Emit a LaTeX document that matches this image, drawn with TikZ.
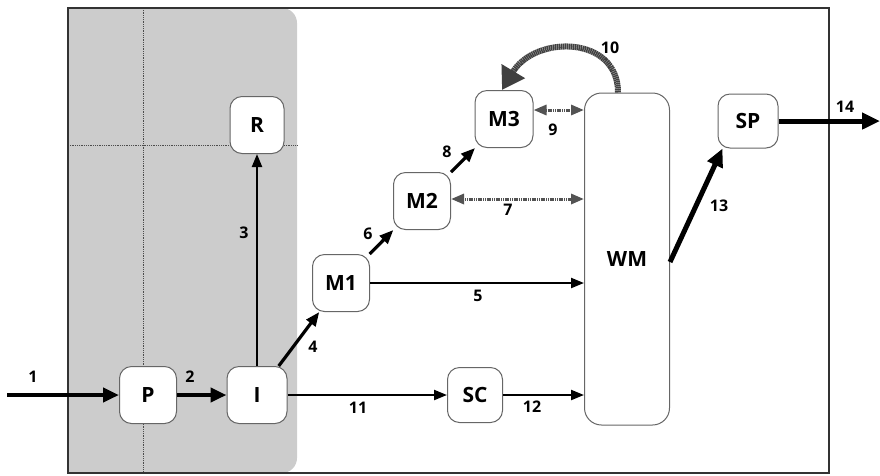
\documentclass[tikz,border=0pt]{standalone}
\usepackage{fontspec}
\setmainfont{Open Sans}
\usetikzlibrary{arrows.meta,calc}
\begin{document}
\begin{tikzpicture}[x=1pt,y=-1pt,
  box/.style={draw=black!60, line width=1pt, rounded corners=12pt, fill=white,
    minimum width=57pt, minimum height=57pt, inner sep=0pt,
    font=\fontsize{21}{21}\selectfont\bfseries},
  lbl/.style={font=\fontsize{16}{16}\selectfont\bfseries, inner sep=0pt},
  heavy/.style={-{Triangle[length=16pt,width=14pt]}, line width=4pt},
  medium/.style={-{Triangle[length=14pt,width=11pt]}, line width=3.2pt},
  light/.style={-{Triangle[length=13pt,width=10pt]}, line width=2.2pt},
  bold/.style={-{Triangle[length=18pt,width=16pt]}, line width=5pt},
  hatch/.style={{Triangle[length=13pt,width=10pt]}-{Triangle[length=13pt,width=10pt]},
    line width=3pt, draw=gray!65!black, dash pattern=on 1.2pt off 0.6pt},
  feedback/.style={-{Triangle[length=22pt,width=26pt]}, line width=6pt, draw=gray!50!black,
    dash pattern=on 1.5pt off 0.5pt},
  frame/.style={draw=black!80, line width=1.3pt},
  grid/.style={draw=gray!60!black, densely dotted, line width=0.8pt}
]
\useasboundingbox (0,0) rectangle (880,475);
% shaded region
\begin{scope}
  \clip (68,0) rectangle (400,480);
  \fill[gray!40, rounded corners=15pt] (30,8) rectangle (297,473);
\end{scope}
\draw[grid] (143,8) -- (143,473);
\draw[grid] (68,145) -- (297,145);
% frame
\draw[frame] (68,8) rectangle (829,473);

% nodes
\node[box] (P) at (148,395) {P};
\node[box, minimum width=60pt] (I) at (257,395) {I};
\node[box, minimum width=54pt] (R) at (257,125) {R};
\node[box] (M1) at (341,283) {M1};
\node[box] (M2) at (422,201) {M2};
\node[box, minimum width=58pt] (M3) at (504,119) {M3};
\node[box, minimum width=55pt, minimum height=55pt] (SC) at (475,395) {SC};
\node[box, minimum width=60pt, minimum height=54pt] (SP) at (748,121) {SP};
\node[box, minimum width=85pt, minimum height=332pt, rounded corners=17pt] (WM) at (627,259) {WM};

\coordinate (in1) at (7,395);
\coordinate (out14) at (880,121);

% connectors
\draw[heavy] (in1) -- (P.west);
\draw[heavy] (P.east) -- (I.west);
\draw[light] (I.north) -- (R.south);
\draw[medium] (I) -- (M1);
\draw[light] (M1.east) -- (M1.east -| WM.west);
\draw[medium] (M1) -- (M2);
\draw[medium] (M2) -- (M3);
\draw[hatch] ([yshift=2pt]M2.east) -- ([yshift=2pt]M2.east -| WM.west);
\draw[hatch] ([yshift=9pt]M3.east) -- ([yshift=9pt]M3.east -| WM.west);
\draw[feedback] ([xshift=-9pt]WM.north) .. controls (618,35) and (535,35) .. ([xshift=-2pt]M3.north);
\draw[light] (I.east) -- (SC.west);
\draw[light] (SC.east) -- (SC.east -| WM.west);
\draw[bold] ([yshift=-3pt]WM.east) -- ($(SP.south west)+(5,0)$);
\draw[bold] (SP.east) -- (out14);

% labels
\node[lbl] (l1) at (33,377) {1};
\node[lbl] (l2) at (190,377) {2};
\node[lbl] (l3) at (244,233) {3};
\node[lbl] (l4) at (313,347) {4};
\node[lbl] (l5) at (478,296) {5};
\node[lbl] (l6) at (368,234) {6};
\node[lbl] (l7) at (508,210) {7};
\node[lbl] (l8) at (447,152) {8};
\node[lbl] (l9) at (553,130) {9};
\node[lbl] (l10) at (610,48) {10};
\node[lbl] (l11) at (358,408) {11};
\node[lbl] (l12) at (532,407) {12};
\node[lbl] (l13) at (719,206) {13};
\node[lbl] (l14) at (845,107) {14};
\end{tikzpicture}
\end{document}
